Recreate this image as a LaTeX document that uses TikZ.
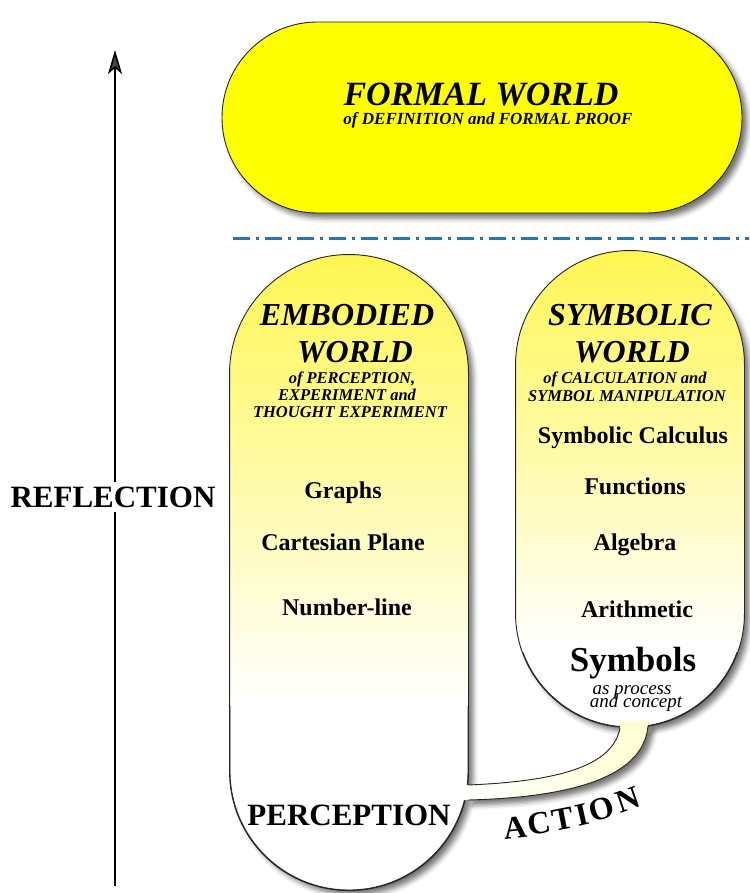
\documentclass[tikz,border=0pt]{standalone}
\usepackage{fontspec}
\setmainfont{Liberation Serif}
\usetikzlibrary{shadows.blur,arrows.meta}
\definecolor{fyellow}{HTML}{FFFF00}
\definecolor{dashblue}{HTML}{2E70B8}
\begin{document}
\begin{tikzpicture}[x=1pt,y=-1pt,
  worldshadow/.style={blur shadow={shadow xshift=5pt, shadow yshift=-5pt, shadow blur radius=5pt, shadow opacity=55}},
  world/.style={draw=black!85, line width=0.9pt, inner sep=0pt, worldshadow},
  title/.style={font=\fontsize{32}{32}\selectfont\bfseries\itshape, inner sep=0pt, anchor=base},
  subt/.style={font=\fontsize{16.5}{16.5}\selectfont\bfseries\itshape, inner sep=0pt, anchor=base},
  item/.style={font=\fontsize{24}{24}\selectfont\bfseries, inner sep=0pt, anchor=base},
  actl/.style={font=\fontsize{32}{32}\selectfont\bfseries, inner sep=0pt, anchor=base},
  edge/.style={draw=black!85, line width=0.9pt}
]
\useasboundingbox (0,0) rectangle (749,893);

% formal world
\node[world, fill=fyellow, rounded corners=95.4pt, minimum width=520pt, minimum height=191pt] (formal) at (482,117.5) {};
\node[title, font=\fontsize{34}{34}\selectfont\bfseries\itshape] (ftitle) at (481,106) {FORMAL WORLD};
\node[subt, font=\fontsize{17}{17}\selectfont\bfseries\itshape] (fsub) at (488,125) {of DEFINITION and FORMAL PROOF};

% dash-dot separator
\coordinate (dl) at (233,238);
\coordinate (dr) at (749,238);
\draw[dashblue, line width=3pt, dash pattern=on 17pt off 6pt on 3pt off 6pt] (dl) -- (dr);

% band (action) shadow
\coordinate (b1) at (468,785);
\coordinate (b2) at (620,728);
\coordinate (b3) at (648,726);
\coordinate (b4) at (468,800);
\path[worldshadow] (b1) .. controls (565,781) and (613,764) .. (b2) -- (b3) .. controls (644,772) and (585,797) .. (b4) -- cycle;

% embodied and symbolic worlds (white base with shadow)
\node[world, fill=white, rounded corners=118.9pt, minimum width=238pt, minimum height=635pt] (emb) at (349,572.5) {};
\node[world, fill=white, rounded corners=113.9pt, minimum width=228pt, minimum height=476pt] (sym) at (630,489) {};

% yellow fades drawn as thin strips
\begin{scope}
  \clip[rounded corners=118.9pt] (emb.north west) rectangle (emb.south east);
  \foreach \i in {0,...,89} {
    \pgfmathtruncatemacro\p{68*(1-\i/90)}
    \fill[yellow!\p] (230,255+\i*5) rectangle (468,260.8+\i*5);
  }
\end{scope}
\begin{scope}
  \clip[rounded corners=113.9pt] (sym.north west) rectangle (sym.south east);
  \foreach \i in {0,...,79} {
    \pgfmathtruncatemacro\p{68*(1-\i/80)}
    \fill[yellow!\p] (516,251+\i*5) rectangle (744,256.8+\i*5);
  }
\end{scope}
\draw[edge, rounded corners=118.9pt] (emb.north west) rectangle (emb.south east);
\draw[edge, rounded corners=113.9pt] (sym.north west) rectangle (sym.south east);

% band fill and edges
\fill[left color=white, right color=yellow!18] (464,785) -- (b1) .. controls (565,781) and (613,764) .. (b2) -- (620,721) -- (648,721) -- (b3) .. controls (644,772) and (585,797) .. (b4) -- (464,800) -- cycle;
\draw[edge] (b1) .. controls (565,781) and (613,764) .. (b2);
\draw[edge] (b3) .. controls (644,772) and (585,797) .. (b4);

% embodied texts
\node[title] (et1) at (347,325) {EMBODIED};
\node[title] (et2) at (355,362) {WORLD};
\node[subt] (es1) at (352,383) {of PERCEPTION,};
\node[subt] (es2) at (347,400) {EXPERIMENT and};
\node[subt] (es3) at (350,417) {THOUGHT EXPERIMENT};
\node[item] (graphs) at (343,498) {Graphs};
\node[item] (cart) at (343,550) {Cartesian Plane};
\node[item] (numl) at (347,615) {Number-line};
\node[item, font=\fontsize{31}{31}\selectfont\bfseries] (perc) at (349,825) {PERCEPTION};

% symbolic texts
\node[title] (st1) at (630,325) {SYMBOLIC};
\node[title] (st2) at (632,362) {WORLD};
\node[subt] (ss1) at (625,383) {of CALCULATION and};
\node[subt] (ss2) at (627,401) {SYMBOL MANIPULATION};
\node[item] (scalc) at (633,443) {Symbolic Calculus};
\node[item] (func) at (635,494) {Functions};
\node[item] (alg) at (635,550) {Algebra};
\node[item] (arith) at (637,617) {Arithmetic};
\node[item, font=\fontsize{35}{35}\selectfont\bfseries] (symb) at (633,671) {Symbols};
\node[item, font=\fontsize{19}{19}\selectfont\itshape] (asp) at (632,694) {as process};
\node[item, font=\fontsize{19}{19}\selectfont\itshape] (andc) at (636,707) {and concept};

% ACTION letters on a rising curve
\node[actl, rotate=6] (lA) at (516,838) {A};
\node[actl, rotate=9] (lC) at (541,834) {C};
\node[actl, rotate=11] (lT) at (565,829) {T};
\node[actl, rotate=13] (lI) at (585,825) {I};
\node[actl, rotate=16] (lO) at (604,819) {O};
\node[actl, rotate=19] (lN) at (631,810) {N};

% reflection arrow
\coordinate (arbot) at (115,886);
\coordinate (artop) at (115,50);
\draw[line width=1.6pt, -{Stealth[length=24pt,width=14pt,inset=6pt]}] (arbot) -- (artop);
\node[fill=white, inner xsep=0pt, inner ysep=5pt, font=\fontsize{31}{31}\selectfont\bfseries] (refl) at (113,497) {REFLECTION};
\end{tikzpicture}
\end{document}
